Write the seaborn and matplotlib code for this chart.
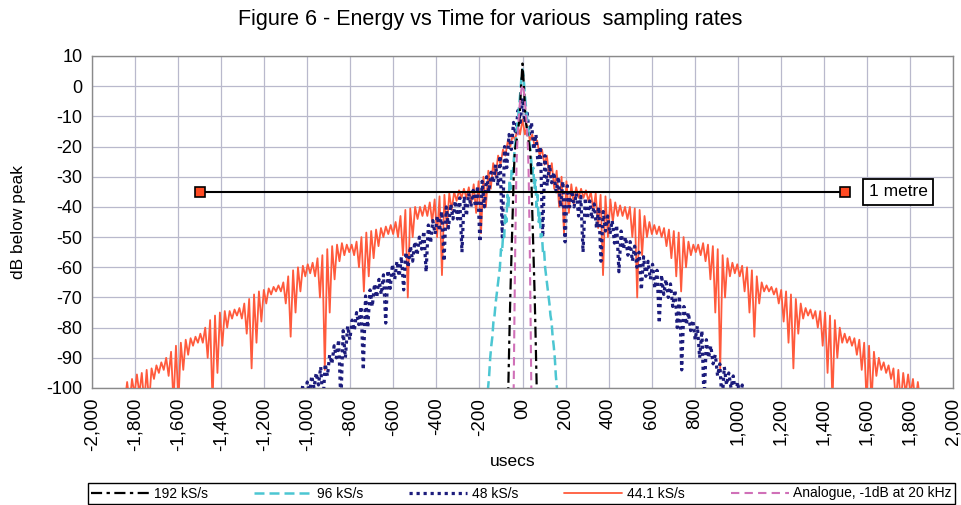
import numpy as np
import pandas as pd
import matplotlib
matplotlib.use("Agg")
import matplotlib.pyplot as plt
import seaborn as sns

# ---------------- data (positive-time half, curves are symmetric about t=0) ----------------
# 44.1 kS/s: one tooth per sample period; peak level and following trough level (dB)
fs441_rate_hz = 44100
fs441_peaks = [-11, -13, -16, -18, -21, -23, -25.5, -28, -30, -31.5,
               -32.5, -33.5, -34, -34.5, -35, -35.5, -36, -36.5, -37.5, -38.5,
               -39.5, -40, -40, -40.5, -41, -43, -45, -46, -46.5, -47,
               -47.5, -48, -48.5, -50, -51.5, -52.5, -52.5, -52, -52.5, -53,
               -54, -56, -57, -58.5, -59, -59.5, -60, -61, -63, -65,
               -66, -66.5, -67, -67.5, -68, -69, -70.5, -72, -73.5, -74,
               -74.5, -74.5, -75, -76, -77.5, -80, -82, -83, -83.5, -84,
               -85, -86, -88, -90, -91.5, -92.5, -93.5, -94, -95, -95.5,
               -97, -98]
fs441_troughs = [-16, -18, -20, -23, -26, -30, -34, -40, -48.7, -42,
                 -39, -37, -37, -38, -41, -47, -62.6, -50, -45, -43,
                 -43, -44, -50, -70, -56, -50, -49, -49, -50, -53,
                 -57, -63, -68, -60, -56, -55, -56, -58, -64, -75,
                 -94, -70, -63, -62, -63, -68, -75, -83, -72, -68,
                 -68, -69, -72, -78, -85, -93.5, -82, -77, -76, -77,
                 -80, -86, -95, -105, -90, -85, -85, -86, -89, -94,
                 -105, -105, -96, -94, -95, -97, -105, -105, -102, -102,
                 -105, -105]

# 48 kS/s
fs48_rate_hz = 48000
fs48_peaks = [-4, -8, -12, -16, -20, -23, -26, -28.5, -30, -31.5,
              -33, -34.5, -35.5, -36.5, -37, -38, -39, -40, -41.5, -43,
              -44.5, -46, -48, -50, -51.5, -53, -55, -56.5, -58, -59,
              -61, -62.5, -64, -65.5, -67.5, -69.5, -73, -75, -77.5, -79.5,
              -81, -84, -86, -89, -92, -93, -95, -96, -98, -99]
fs48_troughs = [-12, -16, -21, -27, -50, -33, -32, -35, -40, -51.6,
                -40, -40, -43, -55, -44, -44, -47, -58, -48, -49,
                -52, -61.5, -54, -56, -58, -60, -67.5, -63, -64, -67,
                -78.5, -69, -70, -73, -80, -94, -79, -81, -84, -90,
                -105, -90, -92, -96, -105, -99, -100, -102, -104, -105]

# 96 kS/s
fs96_t = [0, 5, 10, 15, 20, 25, 30, 35, 40, 45, 50, 55, 60, 65, 70, 75, 80, 85,
          90, 95, 100, 105, 110, 115, 120, 125, 130, 135, 140, 145, 150, 155, 160, 165]
fs96_db = [5.5, 3, -2, -6, -10, -13, -17, -20, -24, -29, -27, -34, -31, -40, -36, -45, -42, -50,
           -49, -55, -54, -60, -63, -66, -69, -72, -76, -78, -83, -86, -90, -96, -100, -106]

# 192 kS/s
fs192_t = [0, 4, 8, 12, 16, 20, 25, 30, 35, 40, 44, 48, 52, 56, 60, 63, 66, 68]
fs192_db = [7.5, 3, -2, -8, -12, -14, -17, -19, -21, -28, -38, -48, -58, -68, -80, -90, -100, -106]

# Analogue, -1 dB at 20 kHz
analog_t = [0, 5, 10, 15, 20, 25, 28, 30, 32, 34, 36, 38, 40, 42]
analog_db = [0.5, -1, -4, -8, -13, -20, -27, -35, -45, -55, -67, -80, -94, -106]

# 1 metre marker line
metre_t = [-1500, 1500]
metre_db = [-35, -35]

series_labels = ["192 kS/s", "96 kS/s", "48 kS/s", "44.1 kS/s", "Analogue, -1dB at 20 kHz"]
xticks = list(range(-2000, 2001, 200))
yticks = list(range(-100, 11, 10))


def teeth(rate, peaks, troughs):
    step = 1e6 / rate
    t, v = [], []
    for k, (p, q) in enumerate(zip(peaks, troughs)):
        t += [k * step, (k + 0.5) * step]
        v += [p, q]
    return t, v


def mirror(t, v):
    t = np.asarray(t, float)
    v = np.asarray(v, float)
    return np.concatenate([-t[:0:-1], t]), np.concatenate([v[:0:-1], v])


def xlabel_fmt(v):
    if v == 0:
        return "00"
    return f"{v:,}"


# ---------------- figure ----------------
sns.set_theme(style="white")
plt.rcParams['font.family'] = ['Liberation Sans', 'DejaVu Sans']
plt.rcParams['text.color'] = 'black'
plt.rcParams['xtick.labelcolor'] = 'black'
plt.rcParams['ytick.labelcolor'] = 'black'

fig = plt.figure(figsize=(9.61, 5.05), dpi=100)
L, R, T, B = 92, 953, 56, 388
ax = fig.add_axes([L / 961, 1 - B / 505, (R - L) / 961, (B - T) / 505])

t441, v441 = mirror(*teeth(fs441_rate_hz, fs441_peaks, fs441_troughs))
t48, v48 = mirror(*teeth(fs48_rate_hz, fs48_peaks, fs48_troughs))
t96, v96 = mirror(fs96_t, fs96_db)
t192, v192 = mirror(fs192_t, fs192_db)
tan, van = mirror(analog_t, analog_db)

common = dict(ax=ax, estimator=None, sort=False)
sns.lineplot(x=t441, y=v441, color="#ff5a3c", lw=1.3, label=series_labels[3], zorder=3, **common)
sns.lineplot(x=t48, y=v48, color="#1c1c7c", lw=2.3, linestyle=(0, (1, 1.2)), label=series_labels[2], zorder=4, **common)
sns.lineplot(x=t96, y=v96, color="#4cc6d2", lw=1.8, linestyle=(0, (4, 2)), label=series_labels[1], zorder=5, **common)
sns.lineplot(x=t192, y=v192, color="black", lw=1.6, linestyle=(0, (5, 2, 1.5, 2)), label=series_labels[0], zorder=6, **common)
sns.lineplot(x=tan, y=van, color="#d070b8", lw=1.5, linestyle=(0, (4, 2.5)), label=series_labels[4], zorder=7, **common)

sns.lineplot(x=metre_t, y=metre_db, color="black", lw=1.5, marker="s", markersize=7,
             markerfacecolor="#ff4a22", markeredgecolor="black", markeredgewidth=1.2,
             label="_nolegend_", zorder=8, **common)
ax.text(1745, -35, "1 metre", ha="center", va="center", fontsize=12.5, zorder=9, color="black",
        bbox=dict(boxstyle="square,pad=0.3", fc="white", ec="black", lw=1.3))

ax.set_xlim(-2000, 2000)
ax.set_ylim(-100, 10)
ax.set_xticks(xticks)
ax.set_xticklabels([xlabel_fmt(v) for v in xticks], rotation=90, fontsize=13.5, color="black")
ax.set_yticks(yticks)
ax.set_yticklabels([str(v) for v in yticks], fontsize=13, color="black")
ax.grid(True, color="#b9b9cc", lw=0.9)
ax.set_axisbelow(True)
for s in ax.spines.values():
    s.set_color("#8a8a8a")
    s.set_linewidth(1.0)
ax.tick_params(axis="both", direction="out", length=4, width=1, color="#8a8a8a", pad=3)
ax.set_xlabel("")
ax.set_ylabel("")

fig.text(490 / 961, 1 - 19 / 505, "Figure 6 - Energy vs Time for various  sampling rates",
         ha="center", va="center", fontsize=15.5, color="black")
fig.text(19 / 961, 1 - 222 / 505, "dB below peak", rotation=90, ha="center", va="center",
         fontsize=12.5, color="black")
fig.text(513 / 961, 1 - 462 / 505, "usecs", ha="center", va="center", fontsize=12.5, color="black")

handles, labels = ax.get_legend_handles_labels()
order = [labels.index(l) for l in series_labels]
leg = ax.get_legend()
if leg is not None:
    leg.remove()
fig.legend([handles[i] for i in order], [labels[i] for i in order],
           loc="center", bbox_to_anchor=(88 / 961, 1 - 504 / 505, 867 / 961, 21 / 505),
           mode="expand", ncol=5, fontsize=10, frameon=True, fancybox=False,
           edgecolor="black", framealpha=1, borderpad=0.25, handlelength=4.2,
           handletextpad=0.3, borderaxespad=0, labelcolor="black")

fig.savefig("out.png", dpi=100)
